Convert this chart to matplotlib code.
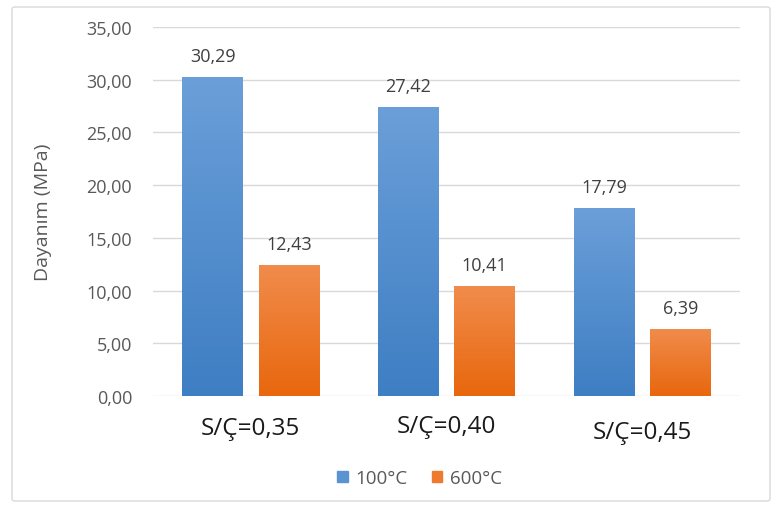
import numpy as np
import matplotlib.pyplot as plt
from matplotlib.colors import LinearSegmentedColormap
from matplotlib.patches import Rectangle, FancyBboxPatch

plt.rcParams['font.family'] = ['Open Sans', 'DejaVu Sans']

categories = ['S/Ç=0,35', 'S/Ç=0,40', 'S/Ç=0,45']
series = ['100°C', '600°C']
v100 = [30.29, 27.42, 17.79]
v600 = [12.43, 10.41, 6.39]
yticks = [0, 5, 10, 15, 20, 25, 30, 35]

blue_grad = LinearSegmentedColormap.from_list('b', ['#3e7ec3', '#6b9fd9'])
orange_grad = LinearSegmentedColormap.from_list('o', ['#e8670d', '#f18c4c'])

fig = plt.figure(figsize=(7.77, 5.06), dpi=100)
fig.patches.append(FancyBboxPatch((12 / 777, 4 / 506), 758 / 777, 494 / 506,
                                  boxstyle='round,pad=0,rounding_size=0.004',
                                  transform=fig.transFigure, fill=False,
                                  edgecolor='#d9d9d9', linewidth=1))
ax = fig.add_axes([0.1969, 0.2154, 0.7555, 0.7293])

x = np.arange(len(categories))
w = 0.31
off = 0.195


def gradient_bars(xs, vals, cmap, label):
    bars = ax.bar(xs, vals, w, color='none', edgecolor='none', label=label, zorder=3)
    grad = np.linspace(0, 1, 256).reshape(-1, 1)
    for b in bars:
        x0, y0 = b.get_x(), b.get_y()
        im = ax.imshow(grad, cmap=cmap, origin='lower', aspect='auto',
                       extent=[x0, x0 + b.get_width(), y0, y0 + b.get_height()],
                       zorder=3)
        im.set_clip_path(b)
    for b, v in zip(bars, vals):
        ax.text(b.get_x() + b.get_width() / 2, v + 2.0, f'{v:.2f}'.replace('.', ','),
                ha='center', va='center', fontsize=13, color='#404040')
    return bars


gradient_bars(x - off, v100, blue_grad, series[0])
gradient_bars(x + off, v600, orange_grad, series[1])

ax.set_xlim(-0.5, 2.5)
ax.set_ylim(0, 35)
ax.set_yticks(yticks)
ax.set_yticklabels([f'{t:.2f}'.replace('.', ',') for t in yticks],
                   fontsize=13, color='#595959')
ax.yaxis.grid(True, color='#d9d9d9', linewidth=1)
ax.set_axisbelow(True)
ax.tick_params(axis='both', length=0)
ax.tick_params(axis='y', pad=15)
for s in ax.spines.values():
    s.set_visible(False)

# category labels sit at slightly different heights
ax.set_xticks([])
label_dy = [-3.0, -2.8, -3.4]
for xi, name, dy in zip(x, categories, label_dy):
    ax.text(xi, dy, name, ha='center', va='center', fontsize=17.5, color='#1a1a1a')

ax.set_ylabel('Dayanım (MPa)', fontsize=14, color='#595959', labelpad=25)

h1 = Rectangle((0, 0), 1, 1, color='#5b93d2')
h2 = Rectangle((0, 0), 1, 1, color='#ee7a30')
fig.legend([h1, h2], series, loc='center', bbox_to_anchor=(0.54, 1 - 479 / 506),
           ncol=2, frameon=False, fontsize=13.5, labelcolor='#595959',
           handlelength=0.55, handleheight=0.55, handletextpad=0.4, columnspacing=1.3)

fig.savefig('out.png', dpi=100)
